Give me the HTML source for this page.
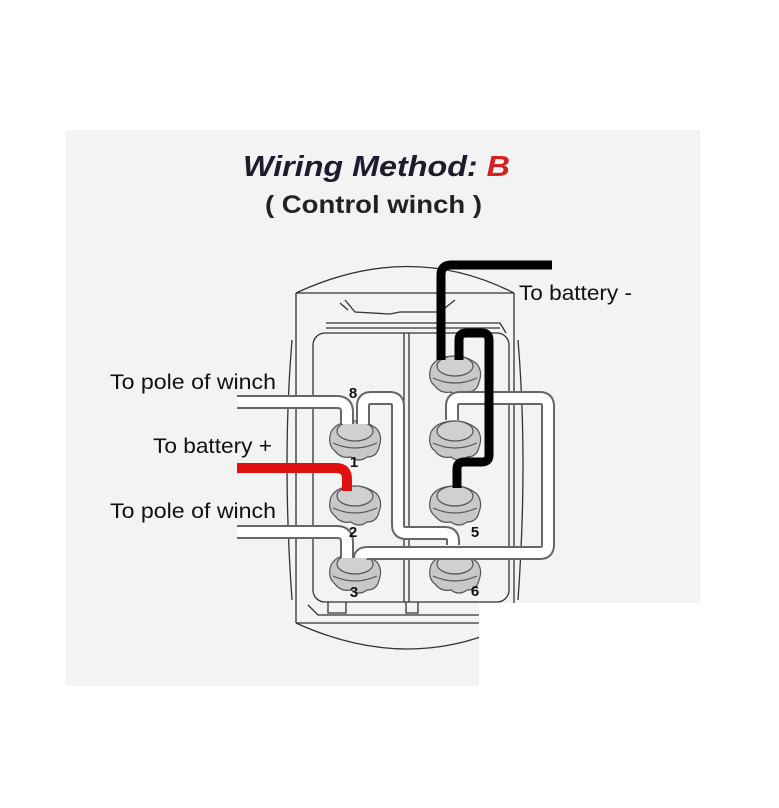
<!DOCTYPE html>
<html><head><meta charset="utf-8"><style>
html,body{margin:0;padding:0;background:#fff;}
svg{display:block;}
text{font-family:"Liberation Sans",sans-serif;}
</style></head><body>
<svg width="779" height="808" viewBox="0 0 779 808" xmlns="http://www.w3.org/2000/svg">
<defs>
  <g id="t">
    <path d="M-24 -5 Q-28 8 -20 14 Q-14 22 -4 20 Q4 26 12 20 Q22 20 24 10 Q28 0 22 -8 Q12 -16 0 -16 Q-18 -16 -24 -5Z" fill="#c8c8c8" stroke="#555" stroke-width="1.2"/>
    <ellipse cx="0" cy="-6" rx="18" ry="10" fill="#d0d0d0" stroke="#555" stroke-width="1.2"/>
    <path d="M-22 6 Q0 16 22 6" fill="none" stroke="#555" stroke-width="1.2"/>
  </g>
</defs>
<rect x="0" y="0" width="779" height="808" fill="#fff"/>
<rect x="66" y="130" width="634" height="556" fill="#f3f3f3"/>
<text x="243" y="176" textLength="267" lengthAdjust="spacingAndGlyphs" font-size="29" font-weight="bold" font-style="italic" fill="#1c1c2c">Wiring Method: <tspan fill="#d42020">B</tspan></text>
<text x="265" y="213" textLength="217" lengthAdjust="spacingAndGlyphs" font-size="25" font-weight="bold" fill="#222">( Control winch )</text>

<g fill="none" stroke="#333" stroke-width="1.3">
  <path d="M296 293 Q410 240 514 293"/>
  <path d="M296 293 L514 293"/>
  <path d="M296 293 L296 623 M514 293 L514 623"/>
  <path d="M296 623 Q410 675 514 623"/>
  <path d="M296 623 L514 623"/>
  <path d="M292 340 Q282 460 292 600"/>
  <path d="M518 340 Q528 460 518 600"/>
  <path d="M326 323 L500 323 L506 333"/>
  <path d="M326 328 L500 328"/>
  <rect x="313" y="333" width="196" height="269" rx="12"/>
  <path d="M404 333 L404 602 M409 333 L409 602"/>
  <path d="M308 605 L318 615 L508 615"/>
  <path d="M328 602 L328 613 L346 613 L346 602 M406 602 L406 613 L418 613 L418 602"/>
  <path d="M345 300 L355 312 L390 314 L400 312 L440 312 L455 300 M340 303 L348 310"/>
</g>

<use href="#t" x="355" y="437"/>
<use href="#t" x="355" y="502"/>
<use href="#t" x="355" y="570"/>
<use href="#t" x="455" y="372"/>
<use href="#t" x="455" y="437"/>
<use href="#t" x="455" y="502"/>
<use href="#t" x="455" y="570"/>

<g fill="none" stroke-linejoin="round" stroke-linecap="butt">
  <g stroke="#666" stroke-width="14">
    <path d="M237 402 L337 402 Q347 402 347 412 L347 424"/>
    <path d="M363 424 L363 406 Q363 398 371 398 L390 398 Q398 398 398 406 L398 525 Q398 533 406 533 L445 533 Q453 533 453 541 L453 545"/>
    <path d="M237 532 L337 532 Q347 532 347 542 L347 558"/>
    <path d="M360 558 Q360 553 368 553 L540 553 Q548 553 548 545 L548 406 Q548 398 540 398 L460 398 Q452 398 452 406 L452 420"/>
  </g>
  <g stroke="#fff" stroke-width="10">
    <path d="M237 402 L337 402 Q347 402 347 412 L347 424"/>
    <path d="M363 424 L363 406 Q363 398 371 398 L390 398 Q398 398 398 406 L398 525 Q398 533 406 533 L445 533 Q453 533 453 541 L453 545"/>
    <path d="M237 532 L337 532 Q347 532 347 542 L347 558"/>
    <path d="M360 558 Q360 553 368 553 L540 553 Q548 553 548 545 L548 406 Q548 398 540 398 L460 398 Q452 398 452 406 L452 420"/>
  </g>
  <path d="M237 468 L336 468 Q347 468 347 479 L347 491" stroke="#e01010" stroke-width="10"/>
  <path d="M552 265 L451 265 Q441 265 441 275 L441 360" stroke="#000" stroke-width="9"/>
  <path d="M459 360 L459 340 Q459 333 466 333 L482 333 Q489 333 489 340 L489 455 Q489 462 482 462 L464 462 Q457 462 457 469 L457 488" stroke="#000" stroke-width="9"/>
</g>

<g font-size="15" font-weight="bold" fill="#111" text-anchor="middle">
  <text x="353" y="398">8</text>
  <text x="354" y="467">1</text>
  <text x="353" y="537">2</text>
  <text x="354" y="597">3</text>
  <text x="475" y="537">5</text>
  <text x="475" y="596">6</text>
</g>
<g font-size="21" fill="#111">
  <text x="110" y="389" textLength="166" lengthAdjust="spacingAndGlyphs">To pole of winch</text>
  <text x="153" y="453" textLength="119" lengthAdjust="spacingAndGlyphs">To battery +</text>
  <text x="110" y="518" textLength="166" lengthAdjust="spacingAndGlyphs">To pole of winch</text>
  <text x="519" y="300" textLength="113" lengthAdjust="spacingAndGlyphs">To battery -</text>
</g>
<rect x="479" y="603" width="300" height="205" fill="#fff"/>
</svg>
</body></html>
